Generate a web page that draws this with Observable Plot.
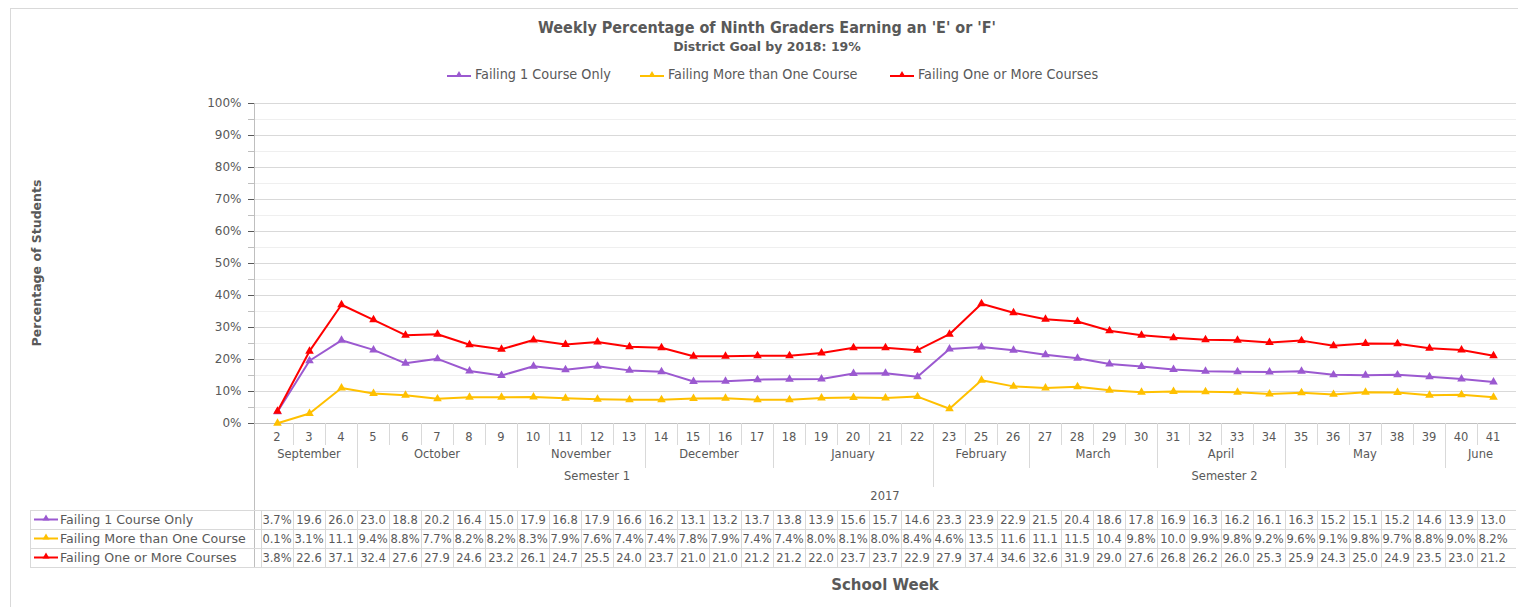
<!DOCTYPE html>
<html><head><meta charset="utf-8">
<script src="https://cdn.jsdelivr.net/npm/d3@7"></script>
<script src="https://cdn.jsdelivr.net/npm/@observablehq/plot@0.6"></script>
<style>
body{margin:0;background:#fff;font-family:"DejaVu Sans",sans-serif;color:#595959}
#wrap{position:relative;width:1518px;height:607px;overflow:hidden;background:#fff}
#frame{position:absolute;left:10px;top:8px;width:1600px;height:700px;border:1px solid #d9d9d9}
#title{position:absolute;top:18px;left:0;width:1534px;text-align:center;font-family:"DejaVu Sans Condensed","DejaVu Sans",sans-serif;font-weight:bold;font-size:16px;color:#595959}
#subtitle{position:absolute;top:39px;left:0;width:1534px;text-align:center;font-family:"DejaVu Sans",sans-serif;font-weight:bold;font-size:12.5px;color:#595959}
#legend{position:absolute;top:66px;left:0;width:1534px;height:18px;font-family:"DejaVu Sans Condensed","DejaVu Sans",sans-serif;font-size:14.3px;color:#595959}
.item{position:absolute;top:0;display:flex;align-items:center;white-space:nowrap}
.item svg{margin-right:4px}
#chart{position:absolute;left:0;top:90px}
</style></head>
<body>
<div id="wrap">
  <div id="frame"></div>
  <div id="title">Weekly Percentage of Ninth Graders Earning an 'E' or 'F'</div>
  <div id="subtitle">District Goal by 2018: 19%</div>
  <div id="legend"></div>
  <div id="chart"></div>
</div>
<script>
// ---- data ----
const weeks = ["2","3","4","5","6","7","8","9","10","11","12","13","14","15","16","17","18","19","20","21","22","23","25","26","27","28","29","30","31","32","33","34","35","36","37","38","39","40","41"];
const months = ["September","October","November","December","January","February","March","April","May","June"];
const monthStartWeek = ["2","5","10","14","18","23","27","31","35","40"];
const semesters = ["Semester 1","Semester 2"];
const semesterStartWeek = ["2","23"];
const yearLabel = "2017";
const seriesNames = ["Failing 1 Course Only","Failing More than One Course","Failing One or More Courses"];
const seriesColors = ["#9b59d0","#ffc000","#ff0000"];
const failing1 = [3.7,19.6,26.0,23.0,18.8,20.2,16.4,15.0,17.9,16.8,17.9,16.6,16.2,13.1,13.2,13.7,13.8,13.9,15.6,15.7,14.6,23.3,23.9,22.9,21.5,20.4,18.6,17.8,16.9,16.3,16.2,16.1,16.3,15.2,15.1,15.2,14.6,13.9,13.0];
const failingMore = [0.1,3.1,11.1,9.4,8.8,7.7,8.2,8.2,8.3,7.9,7.6,7.4,7.4,7.8,7.9,7.4,7.4,8.0,8.1,8.0,8.4,4.6,13.5,11.6,11.1,11.5,10.4,9.8,10.0,9.9,9.8,9.2,9.6,9.1,9.8,9.7,8.8,9.0,8.2];
const failingAny = [3.8,22.6,37.1,32.4,27.6,27.9,24.6,23.2,26.1,24.7,25.5,24.0,23.7,21.0,21.0,21.2,21.2,22.0,23.7,23.7,22.9,27.9,37.4,34.6,32.6,31.9,29.0,27.6,26.8,26.2,26.0,25.3,25.9,24.3,25.0,24.9,23.5,23.0,21.2];
const majorTicks = [0,10,20,30,40,50,60,70,80,90,100];
const minorTicks = [5,15,25,35,45,55,65,75,85,95];
const yAxisTitle = "Percentage of Students";
const xAxisTitle = "School Week";

const seriesValues = [failing1, failingMore, failingAny];
const data = seriesNames.flatMap((s, k) => weeks.map((w, i) => ({week: w, series: s, value: seriesValues[k][i]})));
const fmt = v => v < 10 ? v.toFixed(1) + "%" : v.toFixed(1);

// ---- legend ----
const legendLeft = [447, 640, 890];
const legend = document.getElementById("legend");
seriesNames.forEach((s, k) => {
  const d = document.createElement("div");
  d.className = "item";
  d.style.left = legendLeft[k] + "px";
  d.innerHTML = `<svg width="24" height="14"><line x1="0" x2="24" y1="9" y2="9" stroke="${seriesColors[k]}" stroke-width="2"/><path d="M12,4L15.5,10H8.5Z" fill="${seriesColors[k]}"/></svg><span>${s}</span>`;
  legend.appendChild(d);
});

// ---- below-plot category axis + data table ----
function belowAxis(index, scales, values, dims) {
  const {x, y} = scales;
  const step = x(weeks[1]) - x(weeks[0]);
  const left = dims.marginLeft, right = dims.width - dims.marginRight;
  const bottom = dims.height - dims.marginBottom;
  const edge = w => x(w) - step / 2;
  const g = d3.create("svg:g").attr("font-family", "DejaVu Sans, sans-serif").attr("fill", "#595959").attr("text-anchor", "middle");
  const grey = "#d9d9d9";
  const line = (x1, y1, x2, y2, c = grey) => g.append("line").attr("x1", x1).attr("y1", y1).attr("x2", x2).attr("y2", y2).attr("stroke", c).attr("stroke-width", 1).attr("shape-rendering", "crispEdges");
  const text = (tx, ty, s, size = 11) => g.append("text").attr("x", tx).attr("y", ty).attr("dy", "0.35em").attr("font-size", size).text(s);
  // y axis line and minor ticks
  line(left, y(100), left, bottom + 144, "#bfbfbf");
  minorTicks.forEach(v => line(left - 6, y(v), left, y(v), "#bfbfbf"));
  // x axis line
  line(left, bottom, right, bottom, "#bfbfbf");
  // week row
  weeks.forEach((w, i) => {
    if (i > 0) line(edge(w), bottom, edge(w), bottom + 22);
    text(x(w), bottom + 14, w, 11.5);
  });
  // month row
  months.forEach((m, k) => {
    const a = edge(monthStartWeek[k]);
    const b = k < months.length - 1 ? edge(monthStartWeek[k + 1]) : right;
    if (k > 0) line(a, bottom, a, bottom + 45);
    text((a + b) / 2, bottom + 31, m, 11.5);
  });
  // semester row
  semesters.forEach((s, k) => {
    const a = edge(semesterStartWeek[k]);
    const b = k < semesters.length - 1 ? edge(semesterStartWeek[k + 1]) : right;
    if (k > 0) line(a, bottom, a, bottom + 64);
    text((a + b) / 2, bottom + 53, s, 11.5);
  });
  text((left + right) / 2, bottom + 73, yearLabel, 11.5);
  // data table
  const top = bottom + 87, rh = 19, tl = 30;
  for (let r = 0; r <= seriesNames.length; r++) line(tl, top + r * rh, right, top + r * rh);
  line(tl, top, tl, top + 3 * rh);
  weeks.forEach(w => line(edge(w), top, edge(w), top + 3 * rh));
  seriesNames.forEach((s, k) => {
    const cy = top + k * rh + rh / 2;
    line(tl + 4, cy, tl + 28, cy, seriesColors[k]).attr("stroke-width", 2).attr("shape-rendering", null);
    g.append("path").attr("d", `M${tl + 16},${cy - 5}L${tl + 19.5},${cy + 1}H${tl + 12.5}Z`).attr("fill", seriesColors[k]);
    text(tl + 30, cy, s, 12.6).attr("text-anchor", "start");
    weeks.forEach((w, i) => text(x(w), cy, fmt(seriesValues[k][i]), 11.5));
  });
  // axis titles
  text((left + right) / 2, bottom + 162, xAxisTitle, 15).attr("font-weight", "bold");
  g.append("text").attr("transform", `translate(37,${(y(0) + y(100)) / 2}) rotate(-90)`).attr("dy", "0.35em").attr("font-size", 12.5).attr("font-weight", "bold").text(yAxisTitle);
  return g.node();
}

const chart = Plot.plot({
  width: 1518, height: 517,
  marginLeft: 254, marginRight: 2, marginTop: 13, marginBottom: 184,
  style: {fontFamily: "DejaVu Sans, sans-serif", fontSize: "12px", color: "#595959", background: "transparent"},
  x: {type: "point", domain: weeks, padding: 0.5, axis: null},
  y: {domain: [0, 100], ticks: majorTicks, tickFormat: d => d + "%", tickSize: 6, tickPadding: 7, label: null},
  color: {domain: seriesNames, range: seriesColors},
  marks: [
    Plot.ruleY(minorTicks, {stroke: "#efefef"}),
    Plot.ruleY(majorTicks, {stroke: "#d9d9d9"}),
    belowAxis,
    Plot.line(data, {x: "week", y: "value", z: "series", stroke: "series", strokeWidth: 2}),
    Plot.dot(data, {x: "week", y: "value", fill: "series", symbol: "triangle", r: 3.2})
  ]
});
document.getElementById("chart").appendChild(chart);
</script>
</body></html>
